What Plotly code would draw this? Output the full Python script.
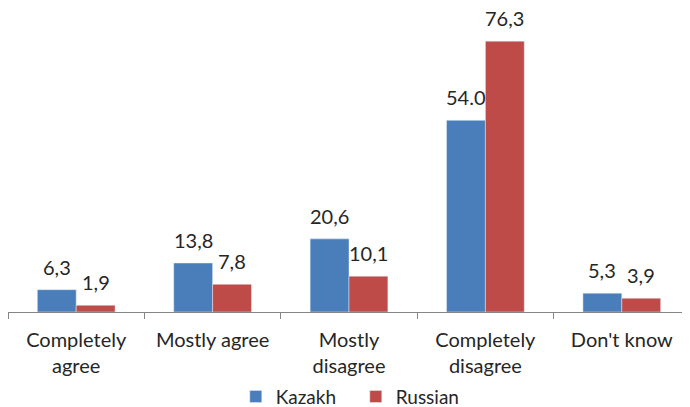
import plotly.graph_objects as go

categories = ["Completely<br>agree", "Mostly agree", "Mostly<br>disagree", "Completely<br>disagree", "Don't know"]
kazakh = [6.3, 13.8, 20.6, 54.0, 5.3]
russian = [1.9, 7.8, 10.1, 76.3, 3.9]
kazakh_labels = ["6,3", "13,8", "20,6", "54.0", "5,3"]
russian_labels = ["1,9", "7,8", "10,1", "76,3", "3,9"]

FONT = "Lato"
TXT = "#262626"
W, H = 682, 399
BARGAP = 0.43

fig = go.Figure()
fig.add_trace(go.Bar(x=categories, y=kazakh, name="Kazakh", marker_color="#4A7EBB"))
fig.add_trace(go.Bar(x=categories, y=russian, name="Russian", marker_color="#BE4B48"))

# data labels placed above each bar (half a bar width left/right of the category centre)
bar_px = W / len(categories) * (1 - BARGAP) / 2
for vals, labels, sign in ((kazakh, kazakh_labels, -1), (russian, russian_labels, 1)):
    for c, v, t in zip(categories, vals, labels):
        fig.add_annotation(x=c, y=v, text=t, showarrow=False, yanchor="bottom",
                           xshift=sign * bar_px / 2, yshift=9,
                           font=dict(size=20, color=TXT, family=FONT))

# page body has an 8px margin; figure is sized to fit inside the 690x407 window
fig.update_layout(
    width=W, height=H,
    margin=dict(l=0, r=0, t=20, b=95, autoexpand=False),
    paper_bgcolor="white", plot_bgcolor="white",
    barmode="group", bargap=BARGAP, bargroupgap=0,
    font=dict(family=FONT, size=20, color=TXT),
    showlegend=True,
    legend=dict(orientation="h", xref="container", x=0.334, xanchor="left",
                yref="container", y=0.026, yanchor="middle",
                bgcolor="rgba(0,0,0,0)",
                font=dict(size=19, family=FONT, color=TXT),
                entrywidth=75, entrywidthmode="pixels",
                traceorder="normal"),
    xaxis=dict(showline=True, linecolor="#868686", linewidth=1, ticks="outside",
               tickson="boundaries", ticklen=6, tickcolor="#868686", automargin=False,
               ticklabelstandoff=10,
               tickfont=dict(size=20, family=FONT, color=TXT), showgrid=False),
    yaxis=dict(range=[0, 80], visible=False, showgrid=False, automargin=False),
)

fig.write_html("out.html")
